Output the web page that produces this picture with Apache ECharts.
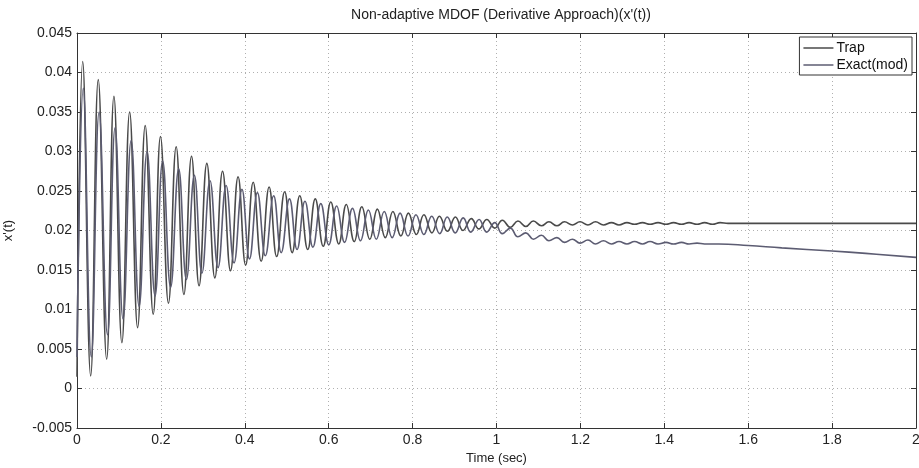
<!DOCTYPE html>
<html>
<head>
<meta charset="utf-8">
<script src="https://cdn.jsdelivr.net/npm/echarts@6/dist/echarts.min.js"></script>
<style>
html,body{margin:0;padding:0;background:#fff;}
#c{width:919px;height:468px;}
</style>
</head>
<body>
<div id="c"></div>
<script>
// Tick labels
const xTicks = [0, 0.2, 0.4, 0.6, 0.8, 1, 1.2, 1.4, 1.6, 1.8, 2];
const yTicks = [-0.005, 0, 0.005, 0.01, 0.015, 0.02, 0.025, 0.03, 0.035, 0.04, 0.045];

// Trap: peak / trough times (s) and values
const trapT = [0, 0.0136, 0.0326, 0.0507, 0.0707, 0.088, 0.107, 0.1255, 0.1445, 0.1626, 0.1817,
  0.199, 0.218, 0.2364, 0.2548, 0.273, 0.291, 0.3095, 0.3286, 0.347, 0.366, 0.384, 0.402,
  0.420, 0.439, 0.458, 0.476, 0.495, 0.513, 0.531, 0.550, 0.568, 0.587, 0.605, 0.624,
  0.642, 0.661, 0.679, 0.698, 0.716, 0.735, 0.753, 0.772, 0.790, 0.809, 0.827, 0.846,
  0.864, 0.883, 0.902, 0.920, 0.940, 0.958, 0.977, 0.996, 1.014, 1.033, 1.051, 1.070,
  1.088, 1.107, 1.125, 1.144, 1.162, 1.181, 1.199, 1.218, 1.236, 1.255, 1.274, 1.292,
  1.311, 1.329, 1.348, 1.366, 1.385, 1.404, 1.422, 1.441, 1.459, 1.478, 1.496, 1.515,
  1.533, 1.552, 1.58, 1.65, 1.75, 1.85, 1.95, 2.0];
const trapV = [0.0015, 0.0414, 0.0016, 0.0391, 0.0037, 0.0370, 0.0058, 0.0350, 0.0077, 0.0333, 0.0094,
  0.0319, 0.0108, 0.0306, 0.0119, 0.0294, 0.0130, 0.0285, 0.0140, 0.0275, 0.0149, 0.0268, 0.0156,
  0.0261, 0.0161, 0.0255, 0.0167, 0.0249, 0.0172, 0.0244, 0.0176, 0.0240, 0.0180, 0.0236, 0.0183,
  0.0233, 0.0186, 0.0230, 0.0189, 0.0227, 0.0191, 0.0224, 0.0193, 0.0222, 0.0195, 0.0220, 0.0197,
  0.0218, 0.0199, 0.0217, 0.0200, 0.0215, 0.0202, 0.0214, 0.0203, 0.0213, 0.0204, 0.0212, 0.0205,
  0.0212, 0.0206, 0.0211, 0.0206, 0.0211, 0.0207, 0.0211, 0.0207, 0.0211, 0.0207, 0.0210, 0.0207,
  0.0210, 0.0208, 0.0210, 0.0208, 0.0210, 0.0208, 0.0210, 0.0208, 0.0210, 0.0208, 0.0210, 0.0208,
  0.0210, 0.0209, 0.0209, 0.0209, 0.0209, 0.0209, 0.0209, 0.0209];

// Exact(mod): peak / trough times (s) and values
const exactT = [0, 0.0150, 0.0340, 0.0527, 0.0727, 0.0908, 0.1098, 0.1291, 0.1481, 0.1670, 0.1861,
  0.2042, 0.2232, 0.2424, 0.2608, 0.2798, 0.2978, 0.3171, 0.3362, 0.3554, 0.3744, 0.3932, 0.4112,
  0.4300, 0.4490, 0.4688, 0.4868, 0.5066, 0.5246, 0.5434, 0.5624, 0.5812, 0.6002, 0.6190, 0.6380,
  0.6568, 0.6758, 0.6946, 0.7136, 0.7324, 0.7514, 0.7702, 0.7892, 0.8080, 0.8270, 0.8456, 0.8646,
  0.8826, 0.9016, 0.9206, 0.9386, 0.9586, 0.9766, 0.996, 1.014, 1.033, 1.051, 1.070, 1.088,
  1.107, 1.125, 1.144, 1.162, 1.181, 1.199, 1.218, 1.236, 1.255, 1.274, 1.292, 1.311,
  1.329, 1.348, 1.366, 1.385, 1.404, 1.422, 1.441, 1.459, 1.478, 1.496, 1.53, 1.6, 1.68, 1.8, 1.88, 2.0];
const exactV = [0.0040, 0.0380, 0.0040, 0.0350, 0.0068, 0.0330, 0.0088, 0.0314, 0.0104, 0.0300, 0.0117,
  0.0288, 0.0128, 0.0278, 0.0138, 0.0270, 0.0146, 0.0263, 0.0153, 0.0257, 0.0159, 0.0252, 0.0164,
  0.0248, 0.0168, 0.0244, 0.0172, 0.0240, 0.0176, 0.0237, 0.0179, 0.0234, 0.0182, 0.0231, 0.0185,
  0.0228, 0.0187, 0.0226, 0.0189, 0.0224, 0.0191, 0.0222, 0.0193, 0.0220, 0.0195, 0.0218, 0.0196,
  0.0217, 0.0197, 0.0216, 0.0198, 0.0214, 0.0198, 0.0210, 0.0196, 0.0203, 0.0192, 0.0197, 0.0189,
  0.0194, 0.0187, 0.0191, 0.0185, 0.0189, 0.0184, 0.0188, 0.0183, 0.0187, 0.0183, 0.0186, 0.0183,
  0.0186, 0.0183, 0.0186, 0.0183, 0.0185, 0.0183, 0.0185, 0.0183, 0.0184, 0.0183, 0.0183, 0.0181, 0.0178, 0.0174, 0.0171, 0.0166];

const pair = (t, v) => t.map((x, i) => [x, v[i]]);
const fmt = v => String(+(+v).toFixed(3));
const FONT = 'Liberation Sans, Arial, sans-serif';

const chart = echarts.init(document.getElementById('c'), null, {renderer: 'canvas'});
const gridLine = {show: true, lineStyle: {color: '#b0b0b0', type: [1, 3], width: 1}};
const frame = {show: true, onZero: false, lineStyle: {color: '#333', width: 1}};
const tick = {show: true, inside: true, length: 5, lineStyle: {color: '#333'}};
chart.setOption({
  animation: false,
  backgroundColor: '#fff',
  title: {
    text: "Non-adaptive MDOF (Derivative Approach)(x'(t))",
    left: 496, top: 3, textAlign: 'center',
    textStyle: {fontFamily: FONT, fontSize: 14, fontWeight: 'normal', color: '#222'}
  },
  legend: {
    data: ['Trap', 'Exact(mod)'],
    orient: 'vertical', right: 7, top: 37,
    itemWidth: 30, itemHeight: 1.5, itemGap: 3,
    icon: 'rect',
    backgroundColor: '#fff', borderColor: '#333', borderWidth: 1,
    padding: [4, 4, 3, 4],
    textStyle: {fontFamily: FONT, fontSize: 14, color: '#111', padding: [0, 0, 0, -2]}
  },
  grid: {left: 77, right: 3, top: 33, bottom: 40, show: false, containLabel: false, outerBoundsMode: 'none'},
  xAxis: [{
    type: 'value', min: 0, max: 2, interval: 0.2,
    name: 'Time (sec)', nameLocation: 'middle', nameGap: 23,
    nameTextStyle: {fontFamily: FONT, fontSize: 13, color: '#222'},
    axisLine: frame, axisTick: tick,
    axisLabel: {fontFamily: FONT, fontSize: 14, color: '#222', margin: 5, formatter: fmt},
    splitLine: gridLine
  }, {
    type: 'value', min: 0, max: 2, interval: 0.2, position: 'top',
    axisLine: frame, axisTick: tick,
    axisLabel: {show: false}, splitLine: {show: false}
  }],
  yAxis: [{
    type: 'value', min: -0.005, max: 0.045, interval: 0.005,
    name: "x'(t)", nameLocation: 'middle', nameGap: 62, nameRotate: 90,
    nameTextStyle: {fontFamily: FONT, fontSize: 13, color: '#222'},
    axisLine: frame, axisTick: tick,
    axisLabel: {fontFamily: FONT, fontSize: 14, color: '#222', margin: 5, formatter: fmt},
    splitLine: gridLine
  }, {
    type: 'value', min: -0.005, max: 0.045, interval: 0.005, position: 'right',
    axisLine: frame, axisTick: tick,
    axisLabel: {show: false}, splitLine: {show: false}
  }],
  series: [{
    name: 'Trap', type: 'line', data: pair(trapT, trapV),
    smooth: 0.45, symbol: 'none',
    lineStyle: {color: '#4a4a4a', width: 1.6}, itemStyle: {color: '#4a4a4a'}
  }, {
    name: 'Exact(mod)', type: 'line', data: pair(exactT, exactV),
    smooth: 0.45, symbol: 'none',
    lineStyle: {color: '#5c5c72', width: 1.6}, itemStyle: {color: '#5c5c72'}
  }]
});
</script>
</body>
</html>
